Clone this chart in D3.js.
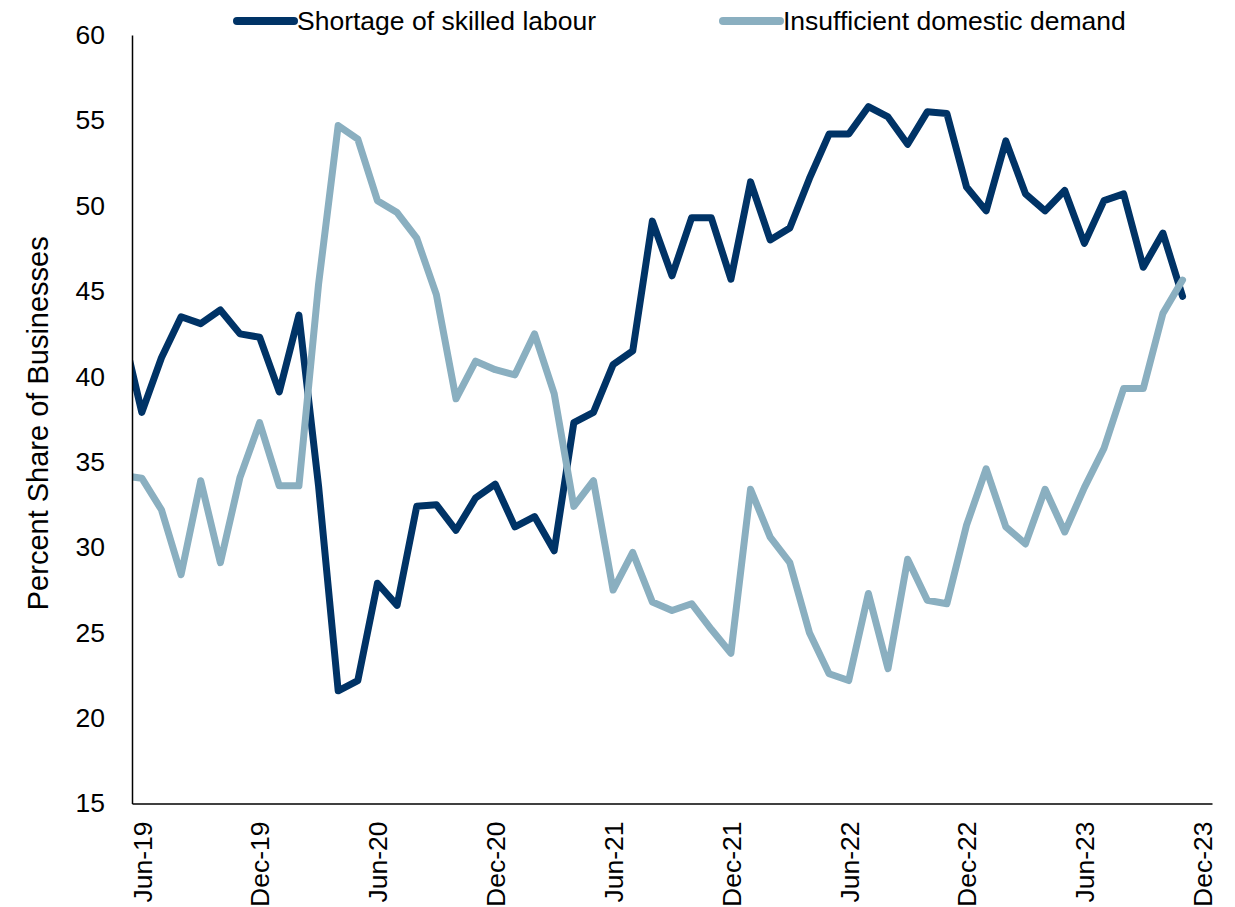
<!DOCTYPE html>
<html>
<head>
<meta charset="utf-8">
<script src="https://cdn.jsdelivr.net/npm/d3@7"></script>
<style>
    body { margin: 0; background: #ffffff; }
    svg { display: block; font-family: "Liberation Sans", Arial, sans-serif; }
</style>
</head>
<body>
<div id="chart"></div>
<script>
// months run from May-19 (partly hidden behind the y axis) to Nov-23
var firstMonth = new Date(2019, 4, 1);
var monthCount = 55;

// share of businesses reporting each constraint, in percent
var skilledLabour = [42.8, 37.9, 41.1, 43.5, 43.1, 43.9, 42.5, 42.3,
    39.1, 43.6, 33.6, 21.6, 22.2, 27.9, 26.6, 32.4, 32.5, 31.0, 32.9, 33.7,
    31.2, 31.8, 29.8, 37.3, 37.9, 40.7, 41.5, 49.1, 45.9, 49.3, 49.3, 45.7,
    51.4, 48.0, 48.7, 51.6, 54.2, 54.2, 55.8, 55.2, 53.6, 55.5, 55.4, 51.1,
    49.7, 53.8, 50.7, 49.7, 50.9, 47.8, 50.3, 50.7, 46.4, 48.4, 44.7];

var domesticDemand = [34.2, 34.05, 32.2, 28.4, 33.9, 29.1, 34.1, 37.3,
    33.6, 33.6, 45.4, 54.7, 53.9, 50.3, 49.6, 48.1, 44.8, 38.7, 40.9, 40.4,
    40.1, 42.5, 39.0, 32.4, 33.9, 27.5, 29.7, 26.8, 26.3, 26.7, 25.2, 23.8,
    33.4, 30.6, 29.1, 25.0, 22.6, 22.2, 27.3, 22.9, 29.3, 26.9, 26.7, 31.3,
    34.6, 31.2, 30.2, 33.4, 30.9, 33.5, 35.8, 39.3, 39.3, 43.7, 45.65];

var seriesNames = ["Shortage of skilled labour", "Insufficient domestic demand"];
var seriesColors = ["#003366", "#8aafc0"];

var xTickLabels = ["Jun-19", "Dec-19", "Jun-20", "Dec-20", "Jun-21",
    "Dec-21", "Jun-22", "Dec-22", "Jun-23", "Dec-23"];
var yTicks = [15, 20, 25, 30, 35, 40, 45, 50, 55, 60];
var yTitle = "Percent Share of Businesses";

var width = 1235, height = 907;
var plot = { left: 132, right: 1212, top: 35, bottom: 803.5 };

var svg = d3.select("#chart").append("svg")
    .attr("width", width)
    .attr("height", height);

svg.append("rect").attr("width", width).attr("height", height).attr("fill", "#fff");

// one slot per month, Jun-19 sits in the first slot
var x = d3.scaleLinear()
    .domain([-0.5, 54.5])
    .range([plot.left, plot.right]);

var y = d3.scaleLinear()
    .domain([15, 60])
    .range([plot.bottom, plot.top]);

var months = d3.timeMonth.range(firstMonth, d3.timeMonth.offset(firstMonth, monthCount));
var fmt = d3.timeFormat("%b-%y");
// index relative to Jun-19
function monthIndex(i) { return i - 1; }

svg.append("clipPath")
    .attr("id", "plot-clip")
    .append("rect")
    .attr("x", plot.left)
    .attr("y", 0)
    .attr("width", plot.right - plot.left)
    .attr("height", height);

var line = d3.line()
    .x(function (d, i) { return x(monthIndex(i)); })
    .y(function (d) { return y(d); });

var g = svg.append("g").attr("clip-path", "url(#plot-clip)");

[skilledLabour, domesticDemand].forEach(function (values, k) {
    g.append("path")
        .datum(values)
        .attr("fill", "none")
        .attr("stroke", seriesColors[k])
        .attr("stroke-width", 7)
        .attr("stroke-linejoin", "round")
        .attr("stroke-linecap", "round")
        .attr("d", line);
});

// y axis
var yAxis = svg.append("g")
    .attr("transform", "translate(" + plot.left + ",0)")
    .call(d3.axisLeft(y).tickValues(yTicks).tickSize(0).tickPadding(27));
yAxis.select(".domain").attr("stroke", "#000").attr("stroke-width", 1.5);
yAxis.selectAll("text")
    .attr("font-size", 26.5)
    .attr("fill", "#000")
    .attr("font-family", "Liberation Sans, Arial, sans-serif");

// x axis: label every sixth month starting Jun-19
var tickIdx = [];
months.forEach(function (m, i) {
    if (xTickLabels.indexOf(fmt(m)) > -1) tickIdx.push(monthIndex(i));
});
tickIdx.push(54); // Dec-23 is past the last data month
var xAxis = svg.append("g")
    .attr("transform", "translate(0," + plot.bottom + ")")
    .call(d3.axisBottom(x)
        .tickValues(tickIdx)
        .tickSize(0)
        .tickFormat(function (d, i) { return xTickLabels[i]; }));
xAxis.select(".domain").attr("stroke", "#000").attr("stroke-width", 1.5);
xAxis.selectAll("text")
    .attr("font-size", 26.5)
    .attr("fill", "#000")
    .attr("font-family", "Liberation Sans, Arial, sans-serif")
    .attr("transform", "rotate(-90)")
    .attr("x", -18)
    .attr("y", 0)
    .attr("dy", "0.35em")
    .attr("text-anchor", "end");

// y title
svg.append("text")
    .attr("transform", "translate(48," + ((plot.top + plot.bottom) / 2 + 4) + ") rotate(-90)")
    .attr("text-anchor", "middle")
    .attr("font-size", 29)
    .attr("fill", "#000")
    .text(yTitle);

// legend
var legendX = [237, 723];
var legend = svg.append("g").selectAll("g")
    .data(seriesNames)
    .enter().append("g")
    .attr("transform", function (d, i) { return "translate(" + legendX[i] + ",21)"; });

legend.append("line")
    .attr("x1", 0).attr("x2", 57)
    .attr("stroke", function (d, i) { return seriesColors[i]; })
    .attr("stroke-width", 8)
    .attr("stroke-linecap", "round");

legend.append("text")
    .attr("x", 60)
    .attr("y", 9)
    .attr("font-size", 26.5)
    .attr("fill", "#000")
    .text(function (d) { return d; });
</script>
</body>
</html>
